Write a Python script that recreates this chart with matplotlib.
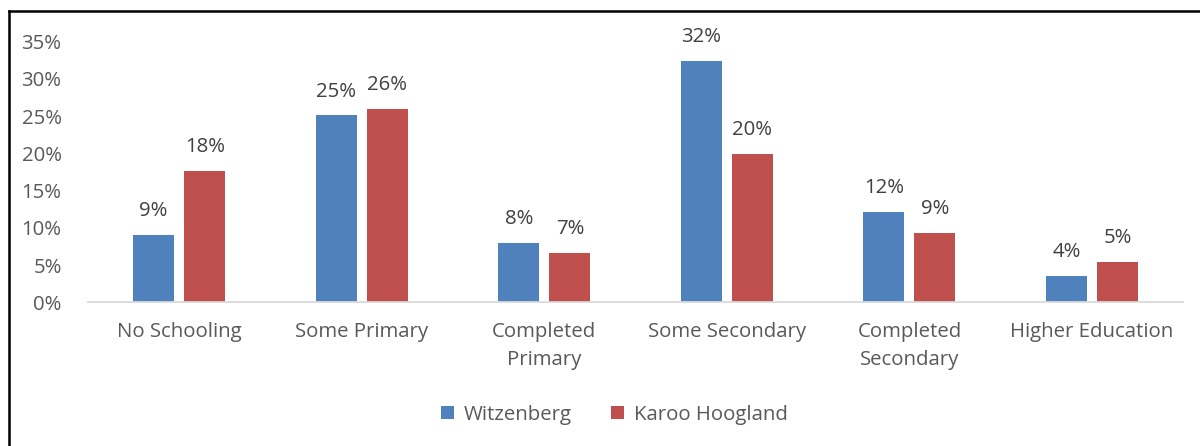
import matplotlib
matplotlib.use("Agg")
from matplotlib import pyplot as plt
from matplotlib.lines import Line2D
import numpy as np

plt.rcParams['font.family'] = ['Open Sans', 'DejaVu Sans']

categories = ['No Schooling', 'Some Primary', 'Completed\nPrimary',
              'Some Secondary', 'Completed\nSecondary', 'Higher Education']
witzenberg = [9.0, 25.1, 8.0, 32.4, 12.1, 3.6]
karoo = [17.7, 26.0, 6.6, 19.9, 9.3, 5.4]
series_names = ['Witzenberg', 'Karoo Hoogland']
colors = ['#4F81BD', '#C0504D']
fs = 14.7

fig = plt.figure(figsize=(12, 4.46), dpi=100)
ax = fig.add_axes([0.0733, 0.322, 0.9127, 0.5845])

x = np.arange(len(categories))
w = 0.225
off = 0.14
for vals, sgn, c, name in [(witzenberg, -1, colors[0], series_names[0]),
                           (karoo, 1, colors[1], series_names[1])]:
    bars = ax.bar(x + sgn * off, vals, width=w, color=c, label=name)
    for b, v in zip(bars, vals):
        ax.annotate('%d%%' % round(v), (b.get_x() + b.get_width() / 2, v),
                    xytext=(0, 10), textcoords='offset points',
                    ha='center', va='bottom', fontsize=fs, color='#404040')

ax.set_xlim(-0.5, len(categories) - 0.5)
ax.set_ylim(0, 35)
ax.set_yticks(range(0, 36, 5))
ax.set_yticklabels(['%d%%' % t for t in range(0, 36, 5)])
ax.set_xticks(x)
ax.set_xticklabels(categories, linespacing=1.55)
ax.tick_params(axis='both', length=0, labelsize=fs, labelcolor='#595959')
ax.tick_params(axis='x', pad=14)
ax.tick_params(axis='y', pad=19)
for s in ['top', 'right', 'left']:
    ax.spines[s].set_visible(False)
ax.spines['bottom'].set_color('#D9D9D9')
ax.spines['bottom'].set_linewidth(1.3)

leg = fig.legend(loc='center', bbox_to_anchor=(0.512, 0.07), ncol=2,
                 frameon=False, fontsize=fs, handlelength=0.65, handleheight=0.65,
                 columnspacing=1.9, handletextpad=0.5)
for t in leg.get_texts():
    t.set_color('#595959')

# outer border (top and left visible)
fig.add_artist(Line2D([8.5 / 1200, 8.5 / 1200], [0, 1 - 10.5 / 446],
                      transform=fig.transFigure, color='black', lw=1.8))
fig.add_artist(Line2D([8.5 / 1200, 1], [1 - 10.5 / 446, 1 - 10.5 / 446],
                      transform=fig.transFigure, color='black', lw=1.8))

fig.savefig('out.png', dpi=100)
